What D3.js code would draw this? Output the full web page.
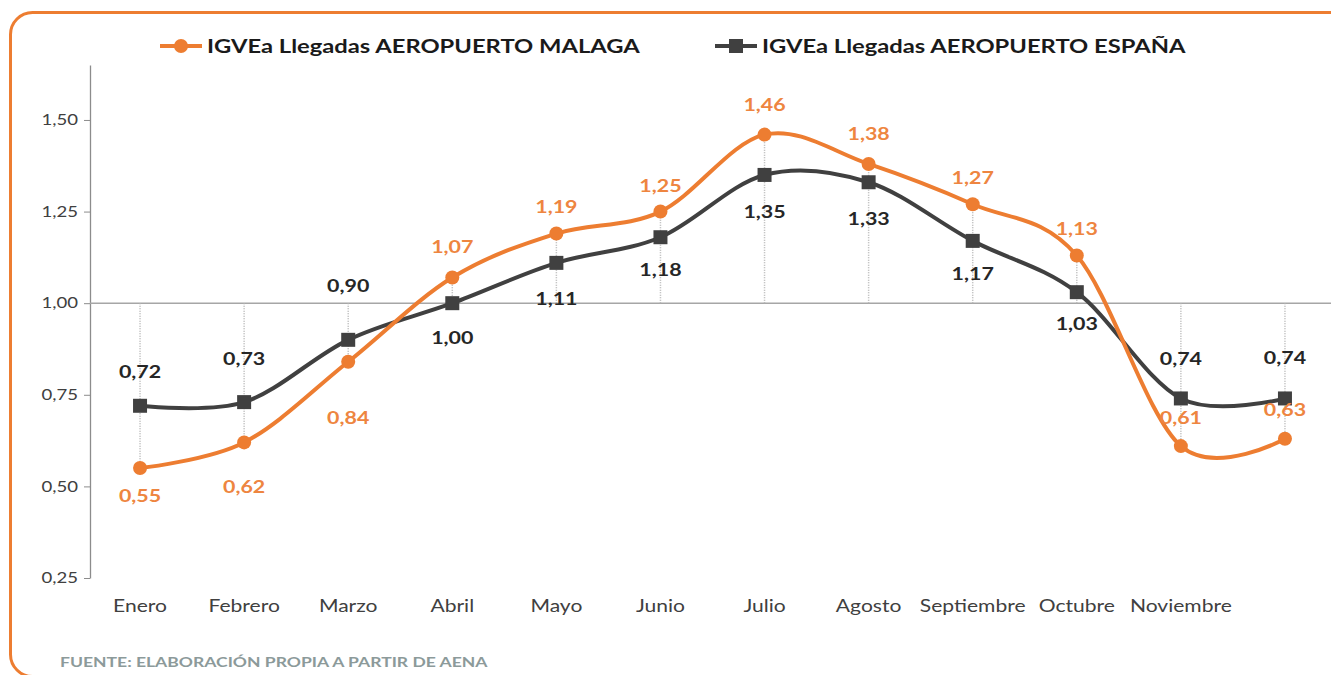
<!DOCTYPE html>
<html>
<head>
    <meta charset="utf-8">
    <title>IGVEa Llegadas</title>
    <script src="https://d3js.org/d3.v7.min.js"></script>
    <style>
        body { margin: 0; background: #fff; }
        svg text { font-family: Lato, "Open Sans", sans-serif; }
    </style>
</head>
<body>
    <div id="chart"></div>

    <script>
        // data
        const months = ["Enero", "Febrero", "Marzo", "Abril", "Mayo", "Junio", "Julio",
            "Agosto", "Septiembre", "Octubre", "Noviembre", "Diciembre"];
        const tickLabels = ["Enero", "Febrero", "Marzo", "Abril", "Mayo", "Junio", "Julio",
            "Agosto", "Septiembre", "Octubre", "Noviembre", ""];
        const malaga = [0.55, 0.62, 0.84, 1.07, 1.19, 1.25, 1.46, 1.38, 1.27, 1.13, 0.61, 0.63];
        const espana = [0.72, 0.73, 0.90, 1.00, 1.11, 1.18, 1.35, 1.33, 1.17, 1.03, 0.74, 0.74];
        const yTicks = [0.25, 0.50, 0.75, 1.00, 1.25, 1.50];
        const seriesNames = ["IGVEa Llegadas AEROPUERTO MALAGA", "IGVEa Llegadas AEROPUERTO ESPAÑA"];

        // label offsets in px (negative = above the point)
        const malagaLabelDy = [28, 45, 56, -30, -27, -26, -30, -30, -26, -27, -28, -29];
        const espanaLabelDy = [-34, -43, -54, 35, 36, 33, 37, 37, 33, 32, -39, -40];

        const W = 1331, H = 675;
        const orange = "#ED7D31", dark = "#404040";

        // the original picture is stretched sideways, so text is widened a bit
        function stretch(sel, k) {
            sel.each(function () {
                const t = d3.select(this);
                const tx = +t.attr("x") || 0, ty = +t.attr("y") || 0;
                t.attr("x", 0).attr("y", 0)
                    .attr("transform", `translate(${tx},${ty}) scale(${k},1)`);
            });
        }

        const svg = d3.select("#chart")
            .append("svg")
            .attr("width", W)
            .attr("height", H);

        // orange rounded frame
        svg.append("rect")
            .attr("x", 10.5).attr("y", 12.5)
            .attr("width", 1360).attr("height", 664)
            .attr("rx", 22).attr("ry", 22)
            .attr("fill", "none")
            .attr("stroke", orange)
            .attr("stroke-width", 3);

        const x = d3.scaleBand()
            .domain(months)
            .range([88, 1337]);
        const cx = d => x(d) + x.bandwidth() / 2;

        const y = d3.scaleLinear()
            .domain([0.25, 1.65])
            .range([578, 65]);

        const fmt = v => d3.format(".2f")(v).replace(".", ",");

        // y axis
        const yAxis = svg.append("g")
            .attr("transform", "translate(90,0)")
            .call(d3.axisLeft(y).tickValues(yTicks).tickFormat(fmt).tickSizeInner(6).tickSizeOuter(0).tickPadding(6));
        yAxis.select(".domain").attr("stroke", "#8c8c8c").attr("stroke-width", 1.3);
        yAxis.selectAll(".tick line").attr("stroke", "#8c8c8c");
        yAxis.selectAll("text")
            .attr("fill", "#404040")
            .style("font-size", "15px")
            .call(stretch, 1.24);

        // category labels (axis crosses at 1,00, labels sit low)
        const xAxis = svg.append("g")
            .attr("transform", "translate(0,600)")
            .call(d3.axisBottom(x).tickSize(0).tickPadding(0).tickFormat((d, i) => tickLabels[i]));
        xAxis.select(".domain").remove();
        xAxis.selectAll("text")
            .attr("fill", "#404040")
            .style("font-size", "17px")
            .call(stretch, 1.24);

        // horizontal axis line at 1,00
        svg.append("line")
            .attr("x1", 90).attr("x2", W)
            .attr("y1", y(1)).attr("y2", y(1))
            .attr("stroke", "#a6a6a6")
            .attr("stroke-width", 1.5);

        // drop lines
        svg.selectAll(".drop")
            .data(months)
            .join("line")
            .attr("class", "drop")
            .attr("x1", d => cx(d)).attr("x2", d => cx(d))
            .attr("y1", y(1))
            .attr("y2", (d, i) => {
                const vals = [malaga[i], espana[i]];
                const far = vals.reduce((a, b) => Math.abs(b - 1) > Math.abs(a - 1) ? b : a);
                return y(far);
            })
            .attr("stroke", "#b3b3b3")
            .attr("stroke-width", 1.5)
            .attr("stroke-dasharray", "1,1.5");

        const line = d3.line()
            .x((d, i) => cx(months[i]))
            .y(d => y(d))
            .curve(d3.curveCardinal.tension(0));

        // España series
        svg.append("path")
            .datum(espana)
            .attr("d", line)
            .attr("fill", "none")
            .attr("stroke", dark)
            .attr("stroke-width", 4);
        svg.selectAll(".sq")
            .data(espana)
            .join("rect")
            .attr("class", "sq")
            .attr("x", (d, i) => cx(months[i]) - 7)
            .attr("y", d => y(d) - 7)
            .attr("width", 14).attr("height", 14)
            .attr("fill", dark);

        // Malaga series
        svg.append("path")
            .datum(malaga)
            .attr("d", line)
            .attr("fill", "none")
            .attr("stroke", orange)
            .attr("stroke-width", 4);
        svg.selectAll(".dot")
            .data(malaga)
            .join("circle")
            .attr("class", "dot")
            .attr("cx", (d, i) => cx(months[i]))
            .attr("cy", d => y(d))
            .attr("r", 7)
            .attr("fill", orange);

        // data labels
        svg.selectAll(".lblE")
            .data(espana)
            .join("text")
            .attr("class", "lblE")
            .attr("x", (d, i) => cx(months[i]))
            .attr("y", (d, i) => y(d) + espanaLabelDy[i])
            .attr("dy", "0.35em")
            .attr("text-anchor", "middle")
            .attr("fill", "#262626")
            .style("font-size", "17px")
            .style("font-weight", "bold")
            .text(d => fmt(d))
            .call(stretch, 1.26);

        svg.selectAll(".lblM")
            .data(malaga)
            .join("text")
            .attr("class", "lblM")
            .attr("x", (d, i) => cx(months[i]))
            .attr("y", (d, i) => y(d) + malagaLabelDy[i])
            .attr("dy", "0.35em")
            .attr("text-anchor", "middle")
            .attr("fill", "#EE8540")
            .style("font-size", "17px")
            .style("font-weight", "bold")
            .text(d => fmt(d))
            .call(stretch, 1.26);

        // legend
        const legend = svg.append("g").attr("transform", "translate(0,46)");
        const items = [
            { name: seriesNames[0], color: orange, x0: 160, shape: "circle" },
            { name: seriesNames[1], color: dark, x0: 715, shape: "square" }
        ];
        items.forEach(it => {
            const g = legend.append("g").attr("transform", `translate(${it.x0},0)`);
            g.append("line")
                .attr("x1", 0).attr("x2", 42)
                .attr("stroke", it.color)
                .attr("stroke-width", 4);
            if (it.shape === "circle") {
                g.append("circle").attr("cx", 21).attr("r", 7).attr("fill", it.color);
            } else {
                g.append("rect").attr("x", 14).attr("y", -7).attr("width", 14).attr("height", 14).attr("fill", it.color);
            }
            g.append("text")
                .attr("x", 47)
                .attr("dy", "0.35em")
                .attr("fill", "#1a1a1a")
                .style("font-size", "19px")
                .style("font-weight", "bold")
                .text(it.name)
                .call(stretch, 1.25);
        });

        // source note
        svg.append("text")
            .attr("x", 60)
            .attr("y", 667)
            .attr("fill", "#8c9a9a")
            .style("font-size", "13.5px")
            .style("font-weight", "bold")
            .text("FUENTE: ELABORACIÓN PROPIA A PARTIR DE AENA")
            .call(stretch, 1.3);
    </script>
</body>
</html>
